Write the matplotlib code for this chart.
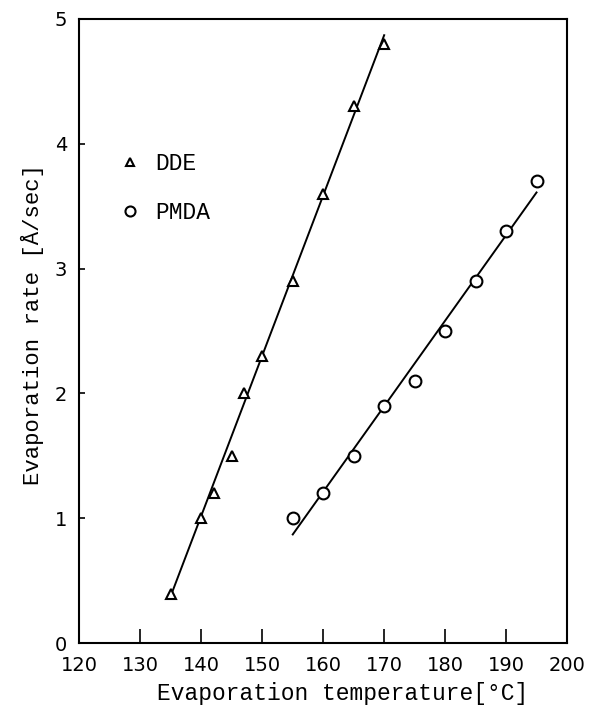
import numpy as np
import matplotlib
matplotlib.use("Agg")
import matplotlib.pyplot as plt

# measured evaporation rates
dde_temp = [135, 140, 142, 145, 147, 150, 155, 160, 165, 170]
dde_rate = [0.39, 1.0, 1.2, 1.5, 2.0, 2.3, 2.9, 3.6, 4.3, 4.8]
pmda_temp = [155, 160, 165, 170, 175, 180, 185, 190, 195]
pmda_rate = [1.0, 1.2, 1.5, 1.9, 2.1, 2.5, 2.9, 3.3, 3.7]

# straight-line fits drawn through each set
dde_fit_temp = [135, 170]
dde_fit_rate = [0.38, 4.87]
pmda_fit_temp = [155, 195]
pmda_fit_rate = [0.87, 3.61]

xticks = [120, 130, 140, 150, 160, 170, 180, 190, 200]
yticks = [0, 1, 2, 3, 4, 5]

label_font = {"family": "Liberation Mono", "size": 16}
tick_font = "DejaVu Sans"

fig = plt.figure(figsize=(5.9, 7.11), dpi=100)
ax = fig.add_axes([0.1347, 0.0956, 0.8263, 0.8777])

ax.plot(dde_fit_temp, dde_fit_rate, color="black", lw=1.4)
ax.plot(pmda_fit_temp, pmda_fit_rate, color="black", lw=1.4)
ax.plot(dde_temp, dde_rate, linestyle="none", marker="^", ms=7.5, mfc="white",
        mec="black", mew=1.5, label="DDE")
ax.plot(pmda_temp, pmda_rate, linestyle="none", marker="o", ms=8.5, mfc="white",
        mec="black", mew=1.5, label="PMDA")

ax.set_xlim(120, 200)
ax.set_ylim(0, 5)
ax.set_xticks(xticks)
ax.set_yticks(yticks)
ax.tick_params(axis="x", direction="in", length=10, width=1.2, pad=9,
               labelsize=14, top=False)
ax.tick_params(axis="y", direction="in", length=4, width=1.2, pad=9,
               labelsize=14, right=False)
for lab in ax.get_xticklabels() + ax.get_yticklabels():
    lab.set_fontfamily(tick_font)
for sp in ax.spines.values():
    sp.set_linewidth(1.5)

ax.set_xlabel("Evaporation temperature[°C]", fontdict={**label_font, "size": 16.5})
ax.xaxis.set_label_coords(0.54, -0.062)
ax.set_ylabel("Evaporation rate [Å/sec]", fontdict=label_font)
ax.yaxis.set_label_coords(-0.072, 0.51)

leg = ax.legend(loc="upper left", bbox_to_anchor=(0.08, 0.787), frameon=False,
                prop={"family": "Liberation Mono", "size": 16.5},
                handlelength=1.0, handletextpad=0.6, labelspacing=1.15,
                borderpad=0, borderaxespad=0, numpoints=1, markerscale=0.85)

fig.savefig("out.png", dpi=100)
